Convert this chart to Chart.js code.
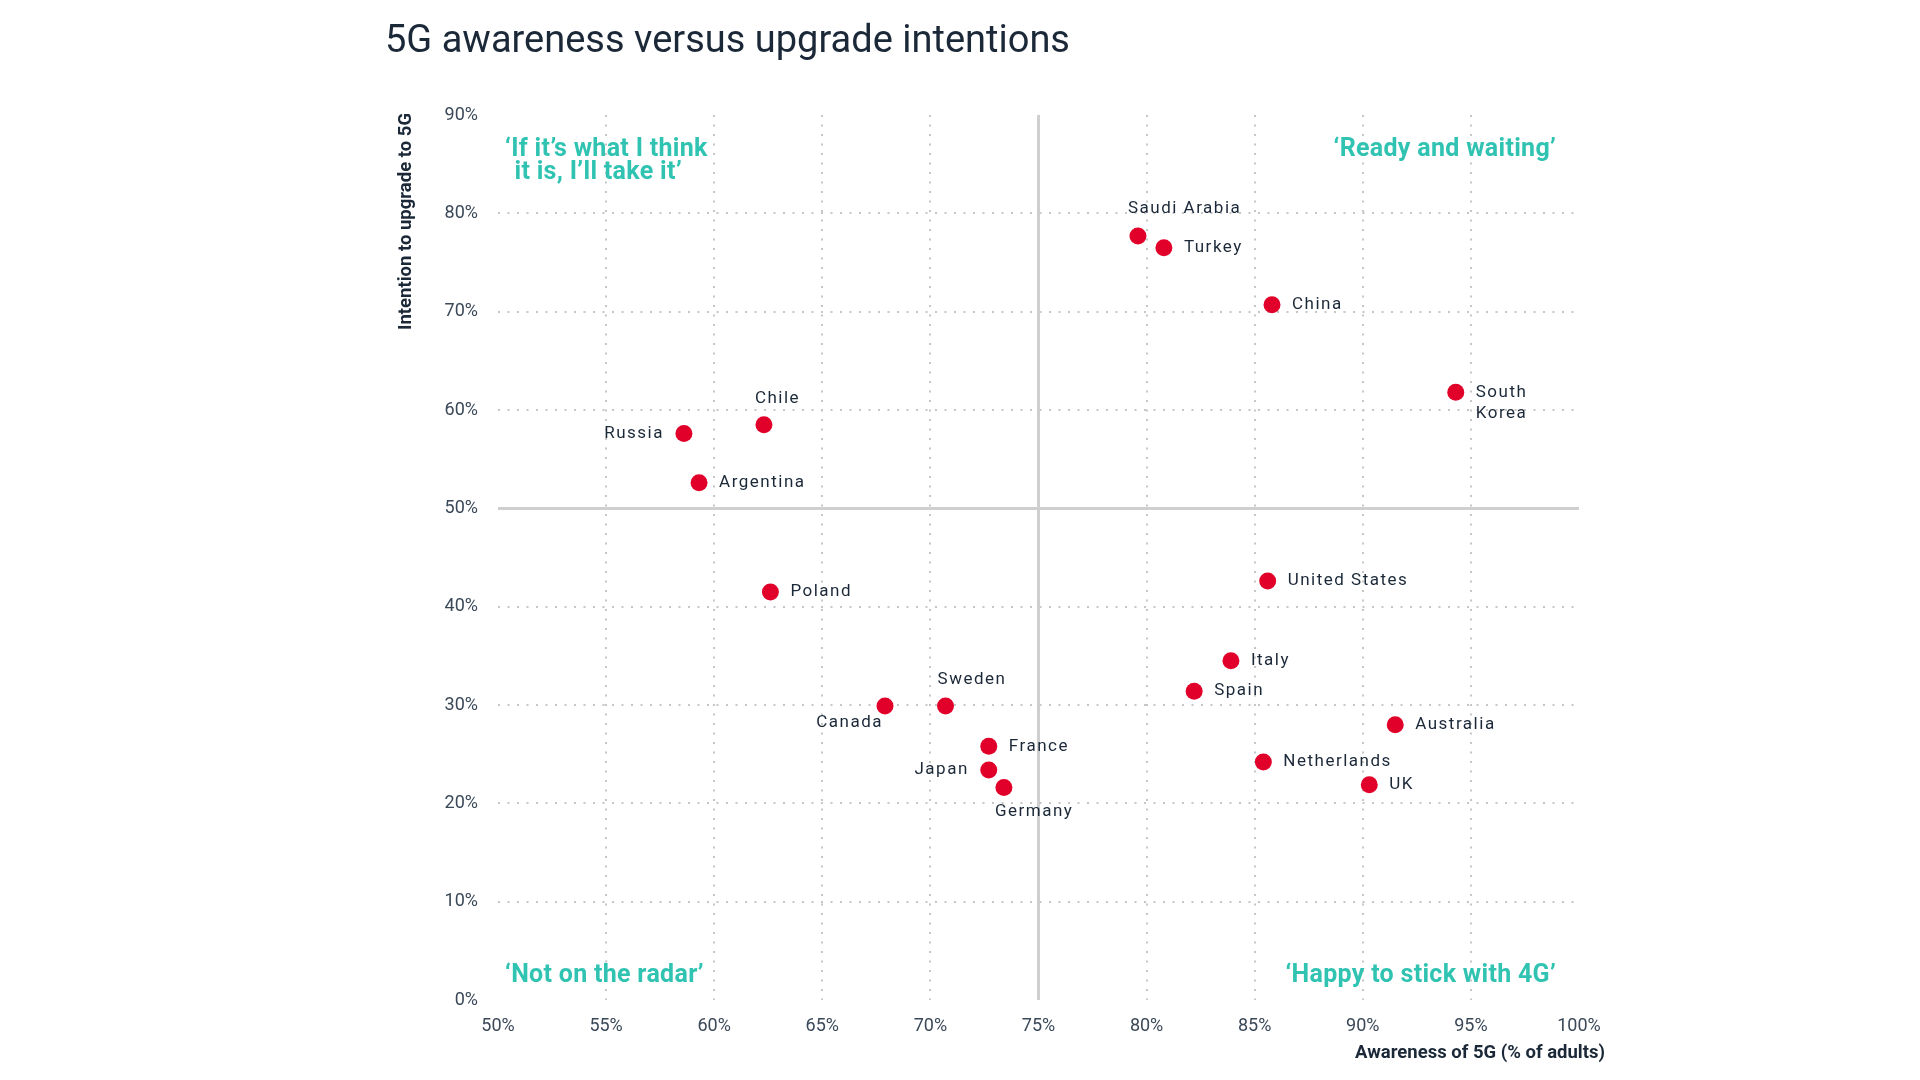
<!DOCTYPE html>
<html>
<head>
<meta charset="utf-8">
<script src="https://cdn.jsdelivr.net/npm/chart.js@4"></script>
<style>
  body { margin: 0; background: #fff; }
  canvas { display: block; }
</style>
</head>
<body>
<canvas id="myChart" width="1920" height="1080"></canvas>
<script>
const countries = ["Saudi Arabia", "Turkey", "China", "South Korea", "Chile", "Russia", "Argentina", "Poland",
  "United States", "Italy", "Spain", "Australia", "Netherlands", "UK", "Canada", "Sweden", "France", "Japan", "Germany"];
const awareness = [79.6, 80.8, 85.8, 94.3, 62.3, 58.6, 59.3, 62.6, 85.6, 83.9, 82.2, 91.5, 85.4, 90.3, 67.9, 70.7, 72.7, 72.7, 73.4];
const intention = [77.7, 76.5, 70.7, 61.8, 58.5, 57.6, 52.6, 41.5, 42.6, 34.5, 31.4, 28.0, 24.2, 21.9, 29.9, 29.9, 25.8, 23.4, 21.6];
const xTicks = [50, 55, 60, 65, 70, 75, 80, 85, 90, 95, 100];
const yTicks = [0, 10, 20, 30, 40, 50, 60, 70, 80, 90];

// where each country name sits next to its dot
const labelPlace = {
  "Saudi Arabia": [-10, -27, "left"],
  "Chile": [-9, -26, "left"],
  "Sweden": [-8, -26, "left"],
  "Russia": [-20, 0, "right"],
  "Japan": [-20, 0, "right"],
  "Canada": [-2, 17, "right"],
  "Germany": [-9, 24, "left"]
};

const navy = "#1b2838";
const teal = "#30c3b2";

const labelsPlugin = {
  id: "labels",
  afterDraw(chart) {
    const ctx = chart.ctx;
    const xs = chart.scales.x, ys = chart.scales.y;
    ctx.save();
    // country names
    ctx.font = "17px Roboto";
    ctx.letterSpacing = "1.5px";
    ctx.fillStyle = navy;
    ctx.textBaseline = "middle";
    countries.forEach((name, i) => {
      const px = xs.getPixelForValue(awareness[i]);
      const py = ys.getPixelForValue(intention[i]);
      const p = labelPlace[name] || [20, 0, "left"];
      ctx.textAlign = p[2];
      if (name === "South Korea") {
        ctx.fillText("South", px + p[0], py + p[1]);
        ctx.fillText("Korea", px + p[0], py + p[1] + 21);
      } else {
        ctx.fillText(name, px + p[0], py + p[1]);
      }
    });

    // quadrant names
    ctx.font = "bold 25px Roboto";
    ctx.letterSpacing = "0.3px";
    ctx.fillStyle = teal;
    ctx.textAlign = "left";
    ctx.fillText("\u2018If it\u2019s what I think", 505, 150);
    ctx.fillText(" it is, I\u2019ll take it\u2019", 508, 173);
    ctx.fillText("\u2018Not on the radar\u2019", 505, 976);
    ctx.textAlign = "right";
    ctx.fillText("\u2018Ready and waiting\u2019", 1556, 150);
    ctx.fillText("\u2018Happy to stick with 4G\u2019", 1556, 976);
    ctx.letterSpacing = "0px";

    // title and axis titles
    ctx.fillStyle = navy;
    ctx.textAlign = "left";
    ctx.font = "38px Roboto";
    ctx.fillText("5G awareness versus upgrade intentions", 385, 42);
    ctx.font = "bold 18.5px Roboto";
    ctx.textAlign = "right";
    ctx.fillText("Awareness of 5G (% of adults)", 1605, 1053);
    ctx.translate(406, 113);
    ctx.rotate(-Math.PI / 2);
    ctx.fillText("Intention to upgrade to 5G", 0, 0);
    ctx.restore();
  }
};

function gridColor(ctx, lo, hi, mid) {
  const v = ctx.tick.value;
  if (v === lo || v === hi) return "rgba(0,0,0,0)";
  return v === mid ? "#cfcfcf" : "#c6c6c6";
}

const config = {
  type: "scatter",
  data: {
    datasets: [{
      data: countries.map((c, i) => ({ x: awareness[i], y: intention[i] })),
      backgroundColor: "#e1002a",
      borderWidth: 0,
      pointRadius: 8.5,
      pointHoverRadius: 8.5
    }]
  },
  options: {
    responsive: false,
    animation: false,
    events: [],
    layout: { padding: { left: 0, top: 115, right: 341, bottom: 0 } },
    plugins: { legend: { display: false }, tooltip: { enabled: false } },
    scales: {
      x: {
        type: "linear", min: 50, max: 100,
        afterBuildTicks: s => { s.ticks = xTicks.map(v => ({ value: v })); },
        afterFit: s => { s.height = 80; },
        ticks: { padding: 16, color: "#3a4858", font: { family: "Roboto", size: 18 }, callback: v => v + "%" },
        grid: {
          drawTicks: false,
          color: c => gridColor(c, 50, 100, 75),
          lineWidth: c => c.tick.value === 75 ? 3 : 2
        },
        border: { display: false, dash: c => c.tick.value === 75 ? [] : [2, 7.5] }
      },
      y: {
        type: "linear", min: 0, max: 90,
        afterBuildTicks: s => { s.ticks = yTicks.map(v => ({ value: v })); },
        afterFit: s => { s.width = 498; },
        ticks: { padding: 20, color: "#3a4858", font: { family: "Roboto", size: 18 }, callback: v => v + "%" },
        grid: {
          drawTicks: false,
          color: c => gridColor(c, 0, 90, 50),
          lineWidth: c => c.tick.value === 50 ? 3 : 2
        },
        border: { display: false, dash: c => c.tick.value === 50 ? [] : [2, 7.5] }
      }
    }
  },
  plugins: [labelsPlugin]
};

const myChart = new Chart(document.getElementById("myChart"), config);
</script>
</body>
</html>
